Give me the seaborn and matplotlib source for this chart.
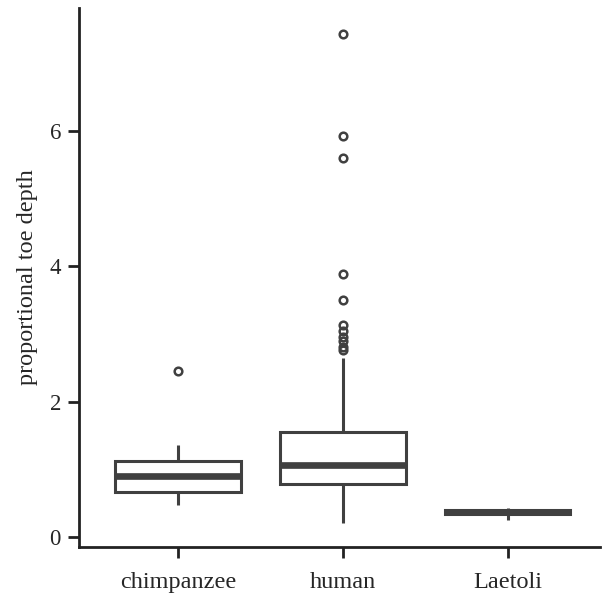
import numpy as np
import pandas as pd
import matplotlib
matplotlib.use("Agg")
import matplotlib.pyplot as plt
import seaborn as sns

# values
groups = ["chimpanzee", "human", "Laetoli"]

chimpanzee = [0.47, 0.58, 0.66, 0.78, 0.90, 1.00, 1.12, 1.35, 2.45]

human = [0.20, 0.35, 0.45, 0.52, 0.58, 0.62, 0.66, 0.69, 0.72, 0.74, 0.76, 0.77,
         0.78,
         0.80, 0.83, 0.86, 0.88, 0.91, 0.94, 0.96, 0.99, 1.01, 1.03, 1.05,
         1.06,
         1.10, 1.14, 1.19, 1.23, 1.28, 1.32, 1.37, 1.41, 1.45, 1.49, 1.53,
         1.55,
         2.65, 2.77, 2.81, 2.89, 2.96, 3.05, 3.14, 3.50, 3.89, 5.60, 5.93, 7.44]

laetoli = [0.25, 0.30, 0.33, 0.35, 0.36, 0.38, 0.40, 0.42, 0.43]

yticks = [0, 2, 4, 6]

df = pd.DataFrame({
    "group": ["chimpanzee"] * len(chimpanzee) + ["human"] * len(human) + ["Laetoli"] * len(laetoli),
    "depth": chimpanzee + human + laetoli,
})

sns.set_style("ticks")
plt.rcParams["font.family"] = ["Liberation Serif", "DejaVu Serif"]

line_col = "#404040"
fig = plt.figure(figsize=(6.08, 5.93), dpi=100)
ax = fig.add_axes([0.130, 0.078, 0.857, 0.909])

sns.boxplot(data=df, x="group", y="depth", order=groups, ax=ax,
            color="white", linecolor=line_col, linewidth=2.2, width=0.76,
            showcaps=False, fliersize=5.5,
            flierprops=dict(marker="o", markerfacecolor="none",
                            markeredgecolor=line_col, markeredgewidth=1.8),
            medianprops=dict(color=line_col, linewidth=4.8))

ax.set_xlim(-0.6, 2.56)
ax.set_ylim(-0.15, 7.83)
ax.set_yticks(yticks)
ax.set_xlabel("")
ax.set_ylabel("proportional toe depth", fontsize=17.5, labelpad=8)
ax.tick_params(axis="both", length=8, width=2, color="#222222", pad=5)
ax.tick_params(axis="x", labelsize=17.5, pad=10)
ax.tick_params(axis="y", labelsize=16.5)
for side in ["top", "right"]:
    ax.spines[side].set_visible(False)
for side in ["left", "bottom"]:
    ax.spines[side].set_linewidth(2)
    ax.spines[side].set_color("#222222")

fig.savefig("out.png", dpi=100)
